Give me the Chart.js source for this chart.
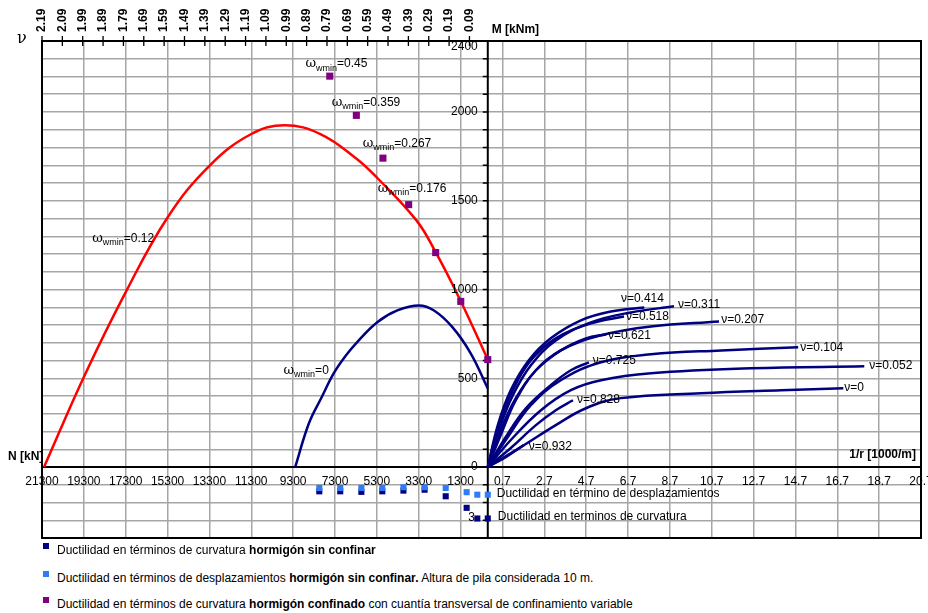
<!DOCTYPE html>
<html>
<head>
<meta charset="utf-8">
<script src="https://cdn.jsdelivr.net/npm/chart.js@4"></script>
<style>
body { margin: 0; background: #fff; font-family: "Liberation Sans", Arial, sans-serif; }
#wrap { position: relative; width: 928px; height: 613px; }
#chart { position: absolute; left: 0; top: 0; }
.leg { position: absolute; left: 43px; font-size: 12px; color: #000; white-space: nowrap; }
.leg i { display: inline-block; width: 6px; height: 6px; margin-right: 8px; vertical-align: 5px; }
</style>
</head>
<body>
<div id="wrap">
  <canvas id="chart" width="928" height="545"></canvas>
  <div class="leg" style="top:543px"><i style="background:#000080"></i>Ductilidad en términos de curvatura <b>hormigón sin confinar</b></div>
  <div class="leg" style="top:571px"><i style="background:#2f7cf6"></i>Ductilidad en términos de desplazamientos <b>hormigón sin confinar.</b> Altura de pila considerada 10 m.</div>
  <div class="leg" style="top:597px"><i style="background:#800080"></i>Ductilidad en términos de curvatura <b>hormigón confinado</b> con cuantía transversal de confinamiento variable</div>
</div>
<script>
// DATA
// left half: interaction diagrams N [kN] - M [kNm]
const nConf012 = [21200, 19300, 17300, 15300, 13300, 11300, 9700, 8000, 6300, 5300, 3400, 2490, 1290, 0];
const mConf012 = [0, 507, 985, 1406, 1697, 1876, 1925, 1876, 1740, 1631, 1388, 1210, 934, 605];
const nPlain = [9200, 8550, 7950, 7350, 6800, 6240, 5280, 4320, 3290, 2570, 1690, 810, 0];
const mPlain = [0, 245, 390, 530, 625, 704, 816, 882, 910, 882, 788, 639, 442];

// confined sections, variable omega_wmin
const nOmega = [7550, 6280, 5010, 3780, 2490, 1290, 0];
const mOmega = [2202, 1981, 1740, 1478, 1208, 933, 605];

// ductility markers (plotted under the N axis)
const nDuct = [8050, 7050, 6040, 5040, 4030, 3020, 2010, 1010, 500, 0];
const mDuctDispl = [-118, -118, -118, -118, -114, -114, -118, -142, -156, -156];
const mDuctCurv = [-137, -137, -140, -137, -133, -128, -165, -230, -290, -290];

// right half: moment - curvature, one curve per nu
const nuNames = ["0", "0.052", "0.104", "0.207", "0.311", "0.414", "0.518", "0.621", "0.725", "0.828", "0.932"];
const curvature = [
  [0, 1.58, 3.25, 4.69, 6.36, 10.19, 14.02, 16.99],
  [0, 1.10, 2.54, 3.97, 5.41, 7.80, 12.58, 17.99],
  [0, 0.86, 2.06, 3.49, 5.41, 7.80, 11.15, 14.83],
  [0, 0.62, 1.34, 2.30, 3.49, 5.41, 7.80, 11.05],
  [0, 0.53, 1.20, 2.06, 3.25, 4.93, 6.84, 8.90],
  [0, 0.48, 1.10, 1.96, 3.01, 4.45, 5.89, 7.48],
  [0, 0.53, 1.20, 2.06, 3.25, 4.93, 6.51],
  [0, 0.62, 1.34, 2.30, 3.49, 4.69, 5.65],
  [0, 0.86, 1.82, 3.01, 3.97, 4.83],
  [0, 1.10, 2.30, 3.25, 4.07],
  [0, 0.86, 1.72]
];
const moment = [
  [0, 112, 236, 331, 388, 416, 433, 444],
  [0, 152, 320, 433, 489, 528, 556, 567],
  [0, 152, 348, 489, 590, 635, 657, 674],
  [0, 180, 376, 545, 657, 742, 792, 820],
  [0, 208, 404, 573, 713, 815, 871, 905],
  [0, 236, 433, 601, 725, 826, 876, 899],
  [0, 236, 433, 601, 725, 809, 848],
  [0, 208, 388, 545, 657, 725, 747],
  [0, 169, 331, 461, 545, 590],
  [0, 107, 236, 320, 376],
  [0, 56, 124]
];

// curve labels (data coordinates)
const nuLabelX = [17.03, 18.23, 14.93, 11.15, 9.09, 6.36, 6.60, 5.74, 5.02, 4.26, 1.96];
const nuLabelM = [449, 573, 674, 831, 916, 949, 848, 742, 601, 382, 112];
const omegaLabelN = [8710, 7460, 5980, 5260, 18900, 9760];
const omegaLabelM = [2270, 2051, 1820, 1567, 1287, 545];
const omegaLabelText = ["0.45", "0.359", "0.267", "0.176", "0.12", "0"];

// axes
const xTicks = [];
for (let v = -21.3; v < 21; v += 2) xTicks.push(Math.round(v * 10) / 10);
const nuTicks = [2.19, 2.09, 1.99, 1.89, 1.79, 1.69, 1.59, 1.49, 1.39, 1.29, 1.19, 1.09, 0.99, 0.89, 0.79, 0.69, 0.59, 0.49, 0.39, 0.29, 0.19, 0.09];
const mLabels = [0, 500, 1000, 1500, 2000, 2400];
const kNperNu = 9726; // N = nu * Ac * fcd

// x axis: left half is -N/1000, right half is 1/r
function leftPts(ns, ms) {
  return ns.map((n, i) => ({ x: -n / 1000, y: ms[i] }));
}

const NAVY = "#000080";
const datasets = [];

datasets.push({
  data: leftPts(nOmega, mOmega), showLine: false, pointStyle: "rect",
  pointRadius: 5, backgroundColor: "#800080", borderWidth: 0
});
datasets.push({
  data: leftPts(nDuct, mDuctDispl), showLine: false, pointStyle: "rect",
  pointRadius: 4.3, backgroundColor: "#2f7cf6", borderWidth: 0
});
datasets.push({
  data: leftPts(nDuct, mDuctCurv), showLine: false, pointStyle: "rect",
  pointRadius: 4.3, backgroundColor: NAVY, borderWidth: 0
});
datasets.push({
  data: leftPts(nConf012, mConf012), showLine: true, borderColor: "#ff0000",
  borderWidth: 2.5, pointRadius: 0, tension: 0.4
});
datasets.push({
  data: leftPts(nPlain, mPlain), showLine: true, borderColor: NAVY,
  borderWidth: 2.5, pointRadius: 0, tension: 0.4
});
curvature.forEach((c, k) => {
  datasets.push({
    data: c.map((v, i) => ({ x: v, y: moment[k][i] })), showLine: true,
    borderColor: NAVY, borderWidth: 2.5, pointRadius: 0, tension: 0.4
  });
});

function omegaLabel(ctx, px, py, val) {
  ctx.textAlign = "left";
  ctx.textBaseline = "middle";
  ctx.font = "13px 'DejaVu Serif', serif";
  ctx.fillText("ω", px, py);
  let w = ctx.measureText("ω").width;
  ctx.font = "9px 'Liberation Sans', Arial";
  ctx.fillText("wmin", px + w, py + 4);
  w += ctx.measureText("wmin").width;
  ctx.font = "12px 'Liberation Sans', Arial";
  ctx.fillText("=" + val, px + w, py);
}

const extras = {
  id: "extras",
  beforeDatasetsDraw(chart) {
    const { ctx, chartArea: a, scales: { x, y } } = chart;
    const x0 = x.getPixelForValue(0), y0 = y.getPixelForValue(0);
    ctx.save();
    ctx.strokeStyle = "#000";
    ctx.lineWidth = 2;
    ctx.strokeRect(a.left, a.top, a.right - a.left, a.bottom - a.top);
    ctx.beginPath();
    ctx.moveTo(x0, a.top); ctx.lineTo(x0, a.bottom);
    ctx.moveTo(a.left, y0); ctx.lineTo(a.right, y0);
    ctx.stroke();
    ctx.lineWidth = 1.3;
    ctx.beginPath();
    for (let m = -400; m <= 2400; m += 100) {
      const py = y.getPixelForValue(m);
      ctx.moveTo(x0 - 5, py); ctx.lineTo(x0, py);
    }
    nuTicks.forEach(v => {
      const px = x.getPixelForValue(-v * kNperNu / 1000);
      ctx.moveTo(px, a.top - 5); ctx.lineTo(px, a.top + 5);
    });
    ctx.stroke();
    ctx.restore();
  },
  afterDatasetsDraw(chart) {
    const { ctx, chartArea: a, scales: { x, y } } = chart;
    const x0 = x.getPixelForValue(0), y0 = y.getPixelForValue(0);
    ctx.save();
    ctx.fillStyle = "#000";

    // bottom tick labels
    ctx.font = "12px 'Liberation Sans', Arial";
    ctx.textAlign = "center";
    ctx.textBaseline = "middle";
    xTicks.forEach(v => {
      const lbl = v < 0 ? String(Math.round(-v * 1000)) : v.toFixed(1);
      ctx.fillText(lbl, x.getPixelForValue(v), y0 + 15);
    });

    // M labels
    ctx.textAlign = "right";
    mLabels.forEach(m => {
      const py = y.getPixelForValue(m) + (m === 2400 ? 6 : 0);
      ctx.fillText(String(m), x0 - 10, py);
    });

    // top nu labels, vertical
    ctx.font = "bold 12px 'Liberation Sans', Arial";
    nuTicks.forEach(v => {
      const px = x.getPixelForValue(-v * kNperNu / 1000);
      ctx.save();
      ctx.translate(px, a.top - 9);
      ctx.rotate(-Math.PI / 2);
      ctx.textAlign = "left";
      ctx.textBaseline = "middle";
      ctx.fillText(v.toFixed(2), 0, 0);
      ctx.restore();
    });

    // axis titles
    ctx.font = "bold 12px 'Liberation Sans', Arial";
    ctx.textAlign = "left";
    ctx.fillText("M [kNm]", x0 + 4, a.top - 11);
    ctx.fillText("N [kN]", 8, y0 - 10);
    ctx.textAlign = "right";
    ctx.fillText("1/r [1000/m]", a.right - 5, y0 - 12);
    ctx.font = "16px 'DejaVu Serif', serif";
    ctx.textAlign = "left";
    ctx.fillText("ν", 17, a.top - 2);

    // nu labels
    ctx.font = "12px 'Liberation Sans', Arial";
    ctx.textAlign = "left";
    nuNames.forEach((n, i) => {
      ctx.fillText("ν=" + n, x.getPixelForValue(nuLabelX[i]), y.getPixelForValue(nuLabelM[i]));
    });

    // omega labels
    omegaLabelText.forEach((t, i) => {
      omegaLabel(ctx, x.getPixelForValue(-omegaLabelN[i] / 1000), y.getPixelForValue(omegaLabelM[i]), t);
    });

    // ductility notes
    ctx.font = "12px 'Liberation Sans', Arial";
    ctx.textAlign = "left";
    ctx.fillText("Ductilidad en término de desplazamientos", x.getPixelForValue(0.43), y.getPixelForValue(-152));
    ctx.fillText("Ductilidad en terminos de curvatura", x.getPixelForValue(0.48), y.getPixelForValue(-281));
    ctx.textAlign = "center";
    ctx.fillText("3", x.getPixelForValue(-0.77), y.getPixelForValue(-287));
    ctx.restore();
  }
};

new Chart(document.getElementById("chart"), {
  type: "scatter",
  data: { datasets: datasets },
  options: {
    responsive: false,
    animation: false,
    devicePixelRatio: 1,
    layout: { padding: { left: 42, top: 41, right: 7, bottom: 7 } },
    plugins: { legend: { display: false }, tooltip: { enabled: false } },
    scales: {
      x: {
        type: "linear", min: -21.3, max: 20.7,
        afterBuildTicks: s => { s.ticks = xTicks.map(v => ({ value: v })); },
        ticks: { display: false },
        grid: { color: "#a6a6a6", lineWidth: 1.5, drawTicks: false },
        border: { display: false }
      },
      y: {
        type: "linear", min: -400, max: 2400,
        ticks: { display: false, stepSize: 100 },
        grid: { color: "#a6a6a6", lineWidth: 1.5, drawTicks: false },
        border: { display: false }
      }
    }
  },
  plugins: [extras]
});
</script>
</body>
</html>
